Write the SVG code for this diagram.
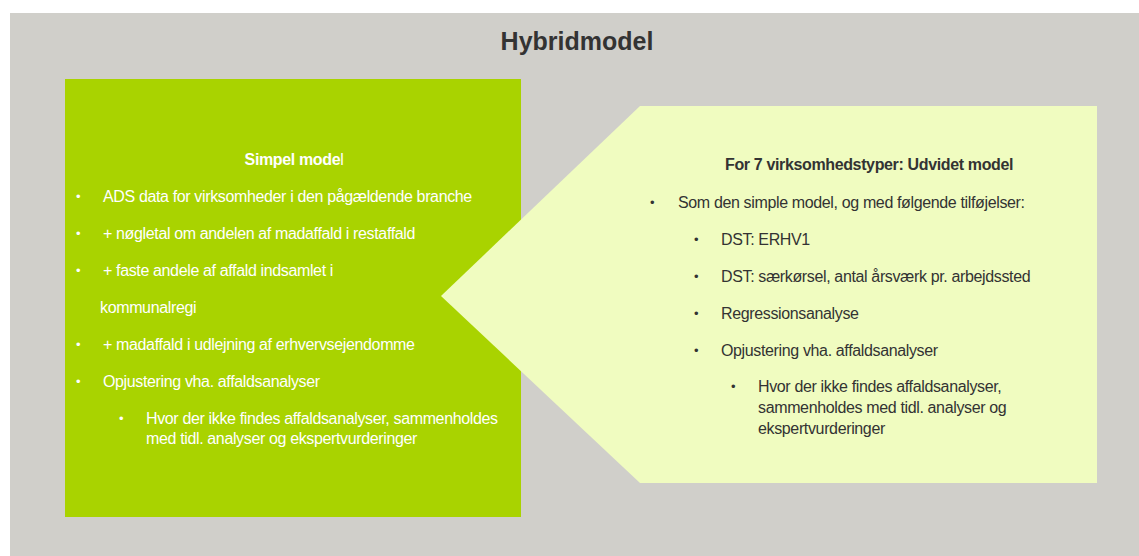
<svg xmlns="http://www.w3.org/2000/svg" width="1139" height="556" viewBox="0 0 1139 556">
<style>
.t{font-family:"Liberation Sans",Arial,sans-serif;font-size:16px;letter-spacing:-0.36px}
.w{fill:#ffffff}
.d{fill:#333333}
.b{font-weight:bold}
.blt{font-family:"Liberation Sans",Arial,sans-serif;font-size:13px}
</style>
<rect x="0" y="0" width="1139" height="556" fill="#ffffff"/>
<rect x="10" y="13" width="1129" height="543" fill="#D0CFCA"/>
<text x="577" y="50" text-anchor="middle" font-family="Liberation Sans,Arial,sans-serif" font-size="25" font-weight="bold" fill="#333333">Hybridmodel</text>
<g id="simpel">
<rect x="65" y="79" width="456" height="438" fill="#A9D300"/>
<text class="t w b" x="294" y="165" text-anchor="middle">Simpel mode<tspan font-weight="normal">l</tspan></text>
<g class="blt w">
<text x="76" y="201">•</text><text x="76" y="238">•</text><text x="76" y="275">•</text><text x="76" y="349">•</text><text x="76" y="386">•</text><text x="119" y="423">•</text>
</g>
<text class="t w" x="103" y="202">ADS data for virksomheder i den pågældende branche</text>
<text class="t w" x="103" y="239">+ nøgletal om andelen af madaffald i restaffald</text>
<text class="t w" x="103" y="276">+ faste andele af affald indsamlet i</text>
<text class="t w" x="100" y="313">kommunalregi</text>
<text class="t w" x="103" y="350">+ madaffald i udlejning af erhvervsejendomme</text>
<text class="t w" x="103" y="387">Opjustering vha.  affaldsanalyser</text>
<text class="t w" x="146" y="424">Hvor der ikke findes affaldsanalyser, sammenholdes</text>
<text class="t w" x="146" y="444">med tidl. analyser og ekspertvurderinger</text>
</g>
<g id="udvidet">
<polygon points="640,106 1097,106 1097,483 640,483 441,296" fill="#F0FCC0"/>
<text class="t d b" x="725" y="170">For 7 virksomhedstyper: Udvidet model</text>
<g class="blt d">
<text x="650" y="207">•</text><text x="694" y="244">•</text><text x="694" y="281">•</text><text x="694" y="318">•</text><text x="694" y="355">•</text><text x="731" y="391">•</text>
</g>
<text class="t d" x="678" y="208">Som den simple model, og med følgende tilføjelser:</text>
<text class="t d" x="721" y="245">DST: ERHV1</text>
<text class="t d" x="721" y="282">DST: særkørsel, antal årsværk pr. arbejdssted</text>
<text class="t d" x="721" y="319">Regressionsanalyse</text>
<text class="t d" x="721" y="356">Opjustering vha. affaldsanalyser</text>
<text class="t d" x="758" y="392">Hvor der ikke findes affaldsanalyser,</text>
<text class="t d" x="758" y="413">sammenholdes med tidl. analyser og</text>
<text class="t d" x="758" y="434">ekspertvurderinger</text>
</g>
</svg>
